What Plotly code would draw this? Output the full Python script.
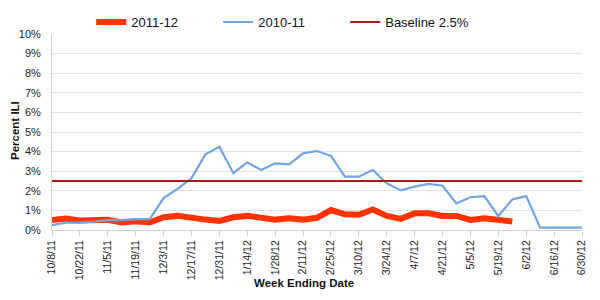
import plotly.graph_objects as go

weeks = ["10/8/11","10/15/11","10/22/11","10/29/11","11/5/11","11/12/11","11/19/11","11/26/11",
         "12/3/11","12/10/11","12/17/11","12/24/11","12/31/11","1/7/12","1/14/12","1/21/12",
         "1/28/12","2/4/12","2/11/12","2/18/12","2/25/12","3/3/12","3/10/12","3/17/12",
         "3/24/12","3/31/12","4/7/12","4/14/12","4/21/12","4/28/12","5/5/12","5/12/12",
         "5/19/12","5/26/12","6/2/12","6/9/12","6/16/12","6/23/12","6/30/12"]

ili_2011_12 = [0.51, 0.58, 0.49, 0.48, 0.52, 0.38, 0.45, 0.38, 0.65, 0.72, 0.6, 0.53, 0.46,
               0.65, 0.72, 0.65, 0.53, 0.6, 0.53, 0.62, 1.02, 0.8, 0.78, 1.05, 0.72, 0.57,
               0.85, 0.85, 0.72, 0.72, 0.51, 0.6, 0.51, 0.43]

ili_2010_11 = [0.25, 0.38, 0.38, 0.42, 0.5, 0.5, 0.55, 0.55, 1.63, 2.1, 2.64, 3.86, 4.25,
               2.9, 3.45, 3.06, 3.4, 3.35, 3.91, 4.03, 3.78, 2.72, 2.72, 3.06, 2.38, 2.02,
               2.21, 2.35, 2.26, 1.36, 1.67, 1.73, 0.71, 1.56, 1.73, 0.12, 0.12, 0.12, 0.12]

baseline = 2.5
tick_weeks = weeks[::2]

fig = go.Figure()
fig.add_trace(go.Scatter(x=weeks[:len(ili_2011_12)], y=ili_2011_12, mode="lines", name="2011-12",
                         line=dict(color="#ff3300", width=6)))
fig.add_trace(go.Scatter(x=weeks, y=ili_2010_11, mode="lines", name="2010-11",
                         line=dict(color="#6fa5e0", width=2.2)))
fig.add_trace(go.Scatter(x=weeks, y=[baseline]*len(weeks), mode="lines", name="Baseline 2.5%",
                         line=dict(color="#a81a12", width=2.2)))

fig.update_layout(
    width=600, height=300,
    margin=dict(l=52, r=18, t=34, b=70, autoexpand=False),
    paper_bgcolor="white", plot_bgcolor="white",
    font=dict(family="Liberation Sans, Arial, sans-serif", color="#222", size=11),
    showlegend=True,
    legend=dict(orientation="h", x=0.074, xanchor="left", y=1.061, yanchor="middle",
                font=dict(size=13, color="#111"), entrywidth=82, entrywidthmode="pixels",
                tracegroupgap=0, traceorder="normal", bgcolor="rgba(0,0,0,0)"),
    xaxis=dict(type="category", categoryorder="array", categoryarray=weeks,
               range=[0, len(weeks)-1], tickmode="array", tickvals=tick_weeks,
               ticktext=tick_weeks, tickangle=-90, tickfont=dict(size=10.5, color="#222"),
               showgrid=False, showline=True, linecolor="#d0d0d0", linewidth=1,
               ticks="outside", ticklen=5, tickcolor="#d0d0d0", automargin=False),
    yaxis=dict(range=[0, 10], dtick=1, ticksuffix="%", tickfont=dict(size=11, color="#222"),
               showgrid=True, gridcolor="#e3e3e3", gridwidth=1, automargin=False,
               showline=True, linecolor="#d0d0d0", zeroline=False, ticklabelstandoff=8),
    annotations=[
        dict(text="<b>Week Ending Date</b>", xref="paper", yref="paper",
             x=(304-52)/530, y=-53/196, xanchor="center", yanchor="middle",
             showarrow=False, font=dict(size=11.5, color="#111")),
        dict(text="<b>Percent ILI</b>", xref="paper", yref="paper", textangle=-90,
             x=(15-52)/530, y=(230-131)/196, xanchor="center", yanchor="middle",
             showarrow=False, font=dict(size=11.5, color="#111")),
    ],
)

fig.write_html("out.html")
